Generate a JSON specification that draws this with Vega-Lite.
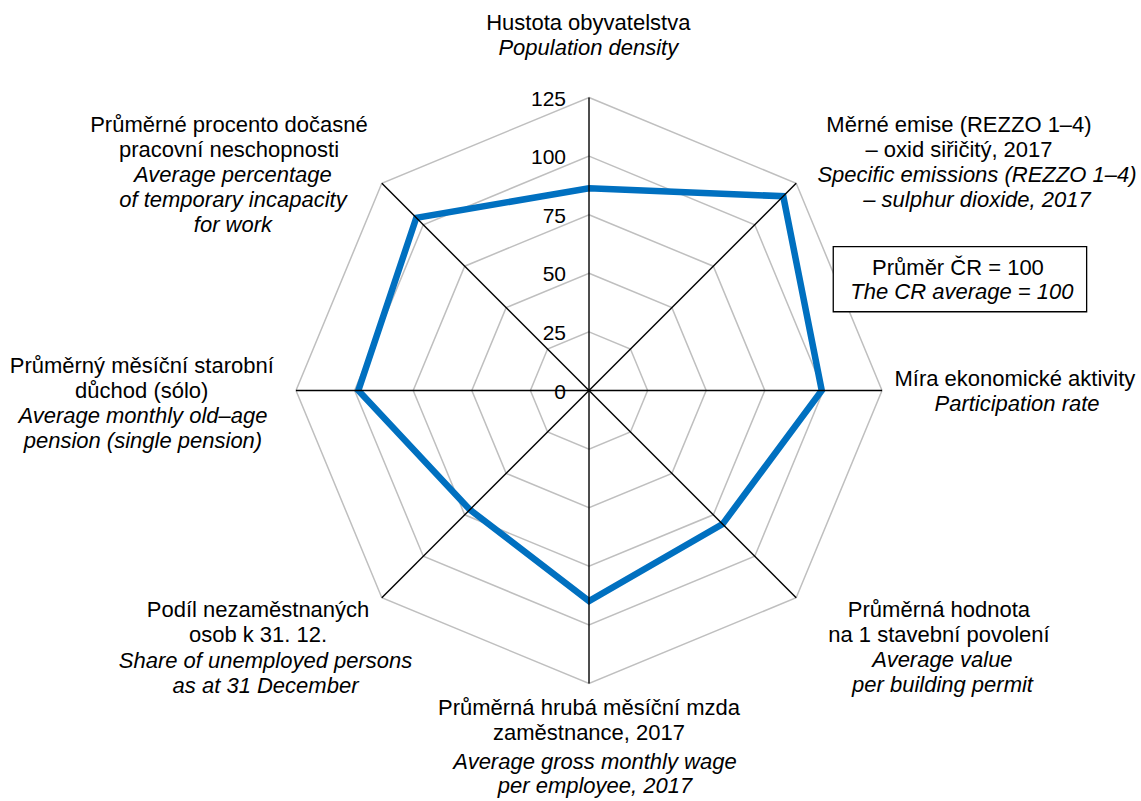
{
  "$schema": "https://vega.github.io/schema/vega-lite/v6.json",
  "width": 1141,
  "height": 801,
  "autosize": {"type": "none"},
  "padding": 0,
  "background": "white",
  "config": {"view": {"stroke": null}, "font": "Liberation Sans", "text": {"font": "Liberation Sans", "color": "black"}},
  "datasets": {
    "values": [
      {"idx": 0, "axis": "Hustota obyvatelstva", "value": 86.3},
      {"idx": 1, "axis": "Měrné emise (REZZO 1–4) – oxid siřičitý, 2017", "value": 117.2},
      {"idx": 2, "axis": "Míra ekonomické aktivity", "value": 99.3},
      {"idx": 3, "axis": "Průměrná hodnota na 1 stavební povolení", "value": 80.6},
      {"idx": 4, "axis": "Průměrná hrubá měsíční mzda zaměstnance, 2017", "value": 89.8},
      {"idx": 5, "axis": "Podíl nezaměstnaných osob k 31. 12.", "value": 71.9},
      {"idx": 6, "axis": "Průměrný měsíční starobní důchod (sólo)", "value": 98.4},
      {"idx": 7, "axis": "Průměrné procento dočasné pracovní neschopnosti", "value": 104.2}
    ],
    "rings": [
      {"level": 0, "idx": [0, 1, 2, 3, 4, 5, 6, 7]},
      {"level": 25, "idx": [0, 1, 2, 3, 4, 5, 6, 7]},
      {"level": 50, "idx": [0, 1, 2, 3, 4, 5, 6, 7]},
      {"level": 75, "idx": [0, 1, 2, 3, 4, 5, 6, 7]},
      {"level": 100, "idx": [0, 1, 2, 3, 4, 5, 6, 7]},
      {"level": 125, "idx": [0, 1, 2, 3, 4, 5, 6, 7]}
    ],
    "labels": [
      {"idx": 0, "cz": ["Hustota obyvatelstva"], "en": ["Population density"]},
      {"idx": 1, "cz": ["Měrné emise (REZZO 1–4)", "– oxid siřičitý, 2017"], "en": ["Specific emissions (REZZO 1–4)", "– sulphur dioxide, 2017"]},
      {"idx": 2, "cz": ["Míra ekonomické aktivity"], "en": ["Participation rate"]},
      {"idx": 3, "cz": ["Průměrná hodnota", "na 1 stavební povolení"], "en": ["Average value", "per building permit"]},
      {"idx": 4, "cz": ["Průměrná hrubá měsíční mzda", "zaměstnance, 2017"], "en": ["Average gross monthly wage", "per employee, 2017"]},
      {"idx": 5, "cz": ["Podíl nezaměstnaných", "osob k 31. 12."], "en": ["Share of unemployed persons", "as at 31 December"]},
      {"idx": 6, "cz": ["Průměrný měsíční starobní", "důchod (sólo)"], "en": ["Average monthly old–age", "pension (single pension)"]},
      {"idx": 7, "cz": ["Průměrné procento dočasné", "pracovní neschopnosti"], "en": ["Average percentage", "of temporary incapacity", "for work"]}
    ],
    "note": [{"cz": "Průměr ČR = 100", "en": "The CR average = 100"}]
  },
  "layer": [
    {
      "data": {"name": "rings"},
      "transform": [
        {"filter": "datum.level > 0"},
        {"flatten": ["idx"]},
        {"calculate": "datum.level * sin(datum.idx * PI / 4)", "as": "x"},
        {"calculate": "datum.level * cos(datum.idx * PI / 4)", "as": "y"}
      ],
      "mark": {"type": "line", "interpolate": "linear-closed", "stroke": "#BFBFBF", "strokeWidth": 1.5},
      "encoding": {
        "x": {"field": "x", "type": "quantitative", "scale": {"domain": [-251.28, 235.49], "nice": false, "zero": false}, "axis": null},
        "y": {"field": "y", "type": "quantitative", "scale": {"domain": [-175.13, 166.6], "nice": false, "zero": false}, "axis": null},
        "detail": {"field": "level", "type": "nominal"},
        "order": {"field": "idx", "type": "quantitative"}
      }
    },
    {
      "data": {"name": "values"},
      "transform": [
        {"calculate": "datum.value * sin(datum.idx * PI / 4)", "as": "x"},
        {"calculate": "datum.value * cos(datum.idx * PI / 4)", "as": "y"}
      ],
      "mark": {"type": "line", "interpolate": "linear-closed", "stroke": "#0070C0", "strokeWidth": 6.5, "strokeJoin": "miter"},
      "encoding": {
        "x": {"field": "x", "type": "quantitative", "scale": {"domain": [-251.28, 235.49], "nice": false, "zero": false}, "axis": null},
        "y": {"field": "y", "type": "quantitative", "scale": {"domain": [-175.13, 166.6], "nice": false, "zero": false}, "axis": null},
        "order": {"field": "idx", "type": "quantitative"}
      }
    },
    {
      "data": {"name": "values"},
      "transform": [
        {"calculate": "125 * sin(datum.idx * PI / 4)", "as": "x"},
        {"calculate": "125 * cos(datum.idx * PI / 4)", "as": "y"}
      ],
      "mark": {"type": "rule", "color": "black", "strokeWidth": 1.4},
      "encoding": {
        "x": {"field": "x", "type": "quantitative", "scale": {"domain": [-251.28, 235.49], "nice": false, "zero": false}, "axis": null},
        "y": {"field": "y", "type": "quantitative", "scale": {"domain": [-175.13, 166.6], "nice": false, "zero": false}, "axis": null},
        "x2": {"datum": 0},
        "y2": {"datum": 0}
      }
    },
    {
      "data": {"name": "rings"},
      "mark": {"type": "text", "align": "right", "baseline": "middle", "dx": -23, "dy": 2, "fontSize": 21},
      "encoding": {
        "x": {"datum": 0, "type": "quantitative", "scale": {"domain": [-251.28, 235.49], "nice": false, "zero": false}, "axis": null},
        "y": {"field": "level", "type": "quantitative", "scale": {"domain": [-175.13, 166.6], "nice": false, "zero": false}, "axis": null},
        "text": {"field": "level", "type": "quantitative"}
      }
    },
    {
      "data": {"name": "note"},
      "mark": {"type": "rect", "fill": "white", "stroke": "black", "strokeWidth": 1.3},
      "encoding": {
        "x": {"datum": 104.2, "type": "quantitative", "scale": {"domain": [-251.28, 235.49], "nice": false, "zero": false}, "axis": null},
        "x2": {"datum": 212.3},
        "y": {"datum": 61.35, "type": "quantitative", "scale": {"domain": [-175.13, 166.6], "nice": false, "zero": false}, "axis": null},
        "y2": {"datum": 33.6}
      }
    },
    {
      "data": {"name": "note"},
      "mark": {"type": "text", "align": "center", "baseline": "alphabetic", "fontSize": 22},
      "encoding": {
        "x": {"datum": 157.4, "type": "quantitative", "scale": {"domain": [-251.28, 235.49], "nice": false, "zero": false}, "axis": null},
        "y": {"datum": 49.3, "type": "quantitative", "scale": {"domain": [-175.13, 166.6], "nice": false, "zero": false}, "axis": null},
        "text": {"field": "cz", "type": "nominal"}
      }
    },
    {
      "data": {"name": "note"},
      "mark": {"type": "text", "align": "center", "baseline": "alphabetic", "fontSize": 22, "fontStyle": "italic"},
      "encoding": {
        "x": {"datum": 159.1, "type": "quantitative", "scale": {"domain": [-251.28, 235.49], "nice": false, "zero": false}, "axis": null},
        "y": {"datum": 39.0, "type": "quantitative", "scale": {"domain": [-175.13, 166.6], "nice": false, "zero": false}, "axis": null},
        "text": {"field": "en", "type": "nominal"}
      }
    },
    {
      "data": {"name": "labels"},
      "transform": [{"filter": "datum.idx == 0"}],
      "mark": {"type": "text", "align": "center", "baseline": "alphabetic", "fontSize": 22, "lineHeight": 25},
      "encoding": {
        "x": {"datum": -0.3, "type": "quantitative", "scale": {"domain": [-251.28, 235.49], "nice": false, "zero": false}, "axis": null},
        "y": {"datum": 153.8, "type": "quantitative", "scale": {"domain": [-175.13, 166.6], "nice": false, "zero": false}, "axis": null},
        "text": {"field": "cz", "type": "nominal"}
      }
    },
    {
      "data": {"name": "labels"},
      "transform": [{"filter": "datum.idx == 0"}],
      "mark": {"type": "text", "align": "center", "baseline": "alphabetic", "fontSize": 22, "lineHeight": 25, "fontStyle": "italic"},
      "encoding": {
        "x": {"datum": -0.3, "type": "quantitative", "scale": {"domain": [-251.28, 235.49], "nice": false, "zero": false}, "axis": null},
        "y": {"datum": 143.1, "type": "quantitative", "scale": {"domain": [-175.13, 166.6], "nice": false, "zero": false}, "axis": null},
        "text": {"field": "en", "type": "nominal"}
      }
    },
    {
      "data": {"name": "labels"},
      "transform": [{"filter": "datum.idx == 1"}],
      "mark": {"type": "text", "align": "center", "baseline": "alphabetic", "fontSize": 22, "lineHeight": 25},
      "encoding": {
        "x": {"datum": 157.85, "type": "quantitative", "scale": {"domain": [-251.28, 235.49], "nice": false, "zero": false}, "axis": null},
        "y": {"datum": 110.3, "type": "quantitative", "scale": {"domain": [-175.13, 166.6], "nice": false, "zero": false}, "axis": null},
        "text": {"field": "cz", "type": "nominal"}
      }
    },
    {
      "data": {"name": "labels"},
      "transform": [{"filter": "datum.idx == 1"}],
      "mark": {"type": "text", "align": "center", "baseline": "alphabetic", "fontSize": 22, "lineHeight": 25, "fontStyle": "italic"},
      "encoding": {
        "x": {"datum": 165.5, "type": "quantitative", "scale": {"domain": [-251.28, 235.49], "nice": false, "zero": false}, "axis": null},
        "y": {"datum": 88.95, "type": "quantitative", "scale": {"domain": [-175.13, 166.6], "nice": false, "zero": false}, "axis": null},
        "text": {"field": "en", "type": "nominal"}
      }
    },
    {
      "data": {"name": "labels"},
      "transform": [{"filter": "datum.idx == 2"}],
      "mark": {"type": "text", "align": "center", "baseline": "alphabetic", "fontSize": 22, "lineHeight": 25},
      "encoding": {
        "x": {"datum": 181.7, "type": "quantitative", "scale": {"domain": [-251.28, 235.49], "nice": false, "zero": false}, "axis": null},
        "y": {"datum": 1.92, "type": "quantitative", "scale": {"domain": [-175.13, 166.6], "nice": false, "zero": false}, "axis": null},
        "text": {"field": "cz", "type": "nominal"}
      }
    },
    {
      "data": {"name": "labels"},
      "transform": [{"filter": "datum.idx == 2"}],
      "mark": {"type": "text", "align": "center", "baseline": "alphabetic", "fontSize": 22, "lineHeight": 25, "fontStyle": "italic"},
      "encoding": {
        "x": {"datum": 182.6, "type": "quantitative", "scale": {"domain": [-251.28, 235.49], "nice": false, "zero": false}, "axis": null},
        "y": {"datum": -8.75, "type": "quantitative", "scale": {"domain": [-175.13, 166.6], "nice": false, "zero": false}, "axis": null},
        "text": {"field": "en", "type": "nominal"}
      }
    },
    {
      "data": {"name": "labels"},
      "transform": [{"filter": "datum.idx == 3"}],
      "mark": {"type": "text", "align": "center", "baseline": "alphabetic", "fontSize": 22, "lineHeight": 25},
      "encoding": {
        "x": {"datum": 149.3, "type": "quantitative", "scale": {"domain": [-251.28, 235.49], "nice": false, "zero": false}, "axis": null},
        "y": {"datum": -96.6, "type": "quantitative", "scale": {"domain": [-175.13, 166.6], "nice": false, "zero": false}, "axis": null},
        "text": {"field": "cz", "type": "nominal"}
      }
    },
    {
      "data": {"name": "labels"},
      "transform": [{"filter": "datum.idx == 3"}],
      "mark": {"type": "text", "align": "center", "baseline": "alphabetic", "fontSize": 22, "lineHeight": 25, "fontStyle": "italic"},
      "encoding": {
        "x": {"datum": 150.8, "type": "quantitative", "scale": {"domain": [-251.28, 235.49], "nice": false, "zero": false}, "axis": null},
        "y": {"datum": -117.96, "type": "quantitative", "scale": {"domain": [-175.13, 166.6], "nice": false, "zero": false}, "axis": null},
        "text": {"field": "en", "type": "nominal"}
      }
    },
    {
      "data": {"name": "labels"},
      "transform": [{"filter": "datum.idx == 4"}],
      "mark": {"type": "text", "align": "center", "baseline": "alphabetic", "fontSize": 22, "lineHeight": 25},
      "encoding": {
        "x": {"datum": 0, "type": "quantitative", "scale": {"domain": [-251.28, 235.49], "nice": false, "zero": false}, "axis": null},
        "y": {"datum": -138.4, "type": "quantitative", "scale": {"domain": [-175.13, 166.6], "nice": false, "zero": false}, "axis": null},
        "text": {"field": "cz", "type": "nominal"}
      }
    },
    {
      "data": {"name": "labels"},
      "transform": [{"filter": "datum.idx == 4"}],
      "mark": {"type": "text", "align": "center", "baseline": "alphabetic", "fontSize": 22, "lineHeight": 24, "fontStyle": "italic"},
      "encoding": {
        "x": {"datum": 2.56, "type": "quantitative", "scale": {"domain": [-251.28, 235.49], "nice": false, "zero": false}, "axis": null},
        "y": {"datum": -161.6, "type": "quantitative", "scale": {"domain": [-175.13, 166.6], "nice": false, "zero": false}, "axis": null},
        "text": {"field": "en", "type": "nominal"}
      }
    },
    {
      "data": {"name": "labels"},
      "transform": [{"filter": "datum.idx == 5"}],
      "mark": {"type": "text", "align": "center", "baseline": "alphabetic", "fontSize": 22, "lineHeight": 25},
      "encoding": {
        "x": {"datum": -141.2, "type": "quantitative", "scale": {"domain": [-251.28, 235.49], "nice": false, "zero": false}, "axis": null},
        "y": {"datum": -96.5, "type": "quantitative", "scale": {"domain": [-175.13, 166.6], "nice": false, "zero": false}, "axis": null},
        "text": {"field": "cz", "type": "nominal"}
      }
    },
    {
      "data": {"name": "labels"},
      "transform": [{"filter": "datum.idx == 5"}],
      "mark": {"type": "text", "align": "center", "baseline": "alphabetic", "fontSize": 22, "lineHeight": 25, "fontStyle": "italic"},
      "encoding": {
        "x": {"datum": -138.0, "type": "quantitative", "scale": {"domain": [-251.28, 235.49], "nice": false, "zero": false}, "axis": null},
        "y": {"datum": -118.5, "type": "quantitative", "scale": {"domain": [-175.13, 166.6], "nice": false, "zero": false}, "axis": null},
        "text": {"field": "en", "type": "nominal"}
      }
    },
    {
      "data": {"name": "labels"},
      "transform": [{"filter": "datum.idx == 6"}],
      "mark": {"type": "text", "align": "center", "baseline": "alphabetic", "fontSize": 22, "lineHeight": 25},
      "encoding": {
        "x": {"datum": -190.8, "type": "quantitative", "scale": {"domain": [-251.28, 235.49], "nice": false, "zero": false}, "axis": null},
        "y": {"datum": 7.34, "type": "quantitative", "scale": {"domain": [-175.13, 166.6], "nice": false, "zero": false}, "axis": null},
        "text": {"field": "cz", "type": "nominal"}
      }
    },
    {
      "data": {"name": "labels"},
      "transform": [{"filter": "datum.idx == 6"}],
      "mark": {"type": "text", "align": "center", "baseline": "alphabetic", "fontSize": 22, "lineHeight": 25, "fontStyle": "italic"},
      "encoding": {
        "x": {"datum": -190.3, "type": "quantitative", "scale": {"domain": [-251.28, 235.49], "nice": false, "zero": false}, "axis": null},
        "y": {"datum": -14.0, "type": "quantitative", "scale": {"domain": [-175.13, 166.6], "nice": false, "zero": false}, "axis": null},
        "text": {"field": "en", "type": "nominal"}
      }
    },
    {
      "data": {"name": "labels"},
      "transform": [{"filter": "datum.idx == 7"}],
      "mark": {"type": "text", "align": "center", "baseline": "alphabetic", "fontSize": 22, "lineHeight": 25},
      "encoding": {
        "x": {"datum": -153.6, "type": "quantitative", "scale": {"domain": [-251.28, 235.49], "nice": false, "zero": false}, "axis": null},
        "y": {"datum": 110.4, "type": "quantitative", "scale": {"domain": [-175.13, 166.6], "nice": false, "zero": false}, "axis": null},
        "text": {"field": "cz", "type": "nominal"}
      }
    },
    {
      "data": {"name": "labels"},
      "transform": [{"filter": "datum.idx == 7"}],
      "mark": {"type": "text", "align": "center", "baseline": "alphabetic", "fontSize": 22, "lineHeight": 25, "fontStyle": "italic"},
      "encoding": {
        "x": {"datum": -151.9, "type": "quantitative", "scale": {"domain": [-251.28, 235.49], "nice": false, "zero": false}, "axis": null},
        "y": {"datum": 89.1, "type": "quantitative", "scale": {"domain": [-175.13, 166.6], "nice": false, "zero": false}, "axis": null},
        "text": {"field": "en", "type": "nominal"}
      }
    }
  ]
}
